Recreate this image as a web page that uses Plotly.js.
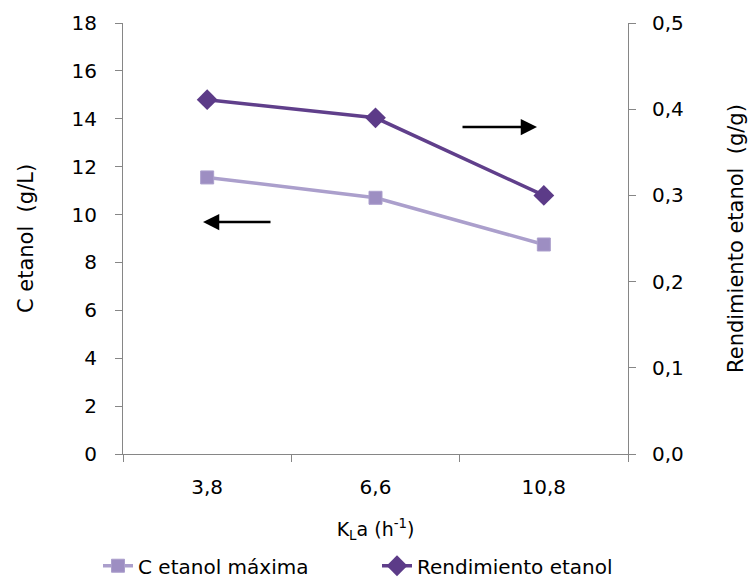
<!DOCTYPE html>
<html><head><meta charset="utf-8">
<script src="https://cdn.plot.ly/plotly-3.0.1.min.js"></script>
<style>html,body{margin:0;padding:0;background:#fff}</style>
</head><body>
<div id="chart" style="width:751px;height:582px"></div>
<script>
const categories = ["3,8", "6,6", "10,8"];
const cEtanolMaxima = [11.55, 10.7, 8.75];
const rendimientoEtanol = [0.411, 0.390, 0.300];

const FONT = "DejaVu Sans, sans-serif";
const axisColor = "#868686";

const traces = [
  {
    x: categories, y: cEtanolMaxima, name: "C etanol máxima", type: "scatter", mode: "lines+markers",
    line: {color: "#ab9fcc", width: 3.5},
    marker: {symbol: "square", size: 13, color: "#9d8ec2", line: {color: "#ab9fcc", width: 1}},
    yaxis: "y", legend: "legend"
  },
  {
    x: categories, y: rendimientoEtanol, name: "Rendimiento etanol", type: "scatter", mode: "lines+markers",
    line: {color: "#603f8b", width: 3.5},
    marker: {symbol: "diamond", size: 16, color: "#5c3b88"},
    yaxis: "y2", legend: "legend2"
  }
];

const legendBase = {orientation: "h", yanchor: "top", y: -0.214, xanchor: "left",
                    font: {family: FONT, size: 20}, bgcolor: "rgba(0,0,0,0)"};

const layout = {
  width: 751, height: 582,
  margin: {l: 123, r: 123, t: 23, b: 128, autoexpand: false},
  paper_bgcolor: "#fff", plot_bgcolor: "#fff",
  separators: ",.",
  font: {family: FONT, size: 20, color: "#000"},
  showlegend: true,
  legend: Object.assign({}, legendBase, {x: (98 - 123) / 505}),
  legend2: Object.assign({}, legendBase, {x: (377 - 123) / 505}),
  xaxis: {
    type: "category", range: [-0.5, 2.5], tickson: "boundaries",
    showline: true, linecolor: axisColor, linewidth: 1,
    ticks: "outside", ticklen: 7, tickcolor: axisColor,
    showgrid: false, zeroline: false,
    tickfont: {family: FONT, size: 20}, ticklabelstandoff: 15,
    title: {text: "K<sub>L</sub>a (h<sup>-1</sup>)", font: {family: FONT, size: 19}, standoff: 24}
  },
  yaxis: {
    range: [0, 18], dtick: 2, tick0: 0,
    showline: true, linecolor: axisColor, linewidth: 1,
    ticks: "outside", ticklen: 7, tickcolor: axisColor,
    showgrid: false, zeroline: false,
    tickfont: {family: FONT, size: 20}, ticklabelstandoff: 14,
    title: {text: "C etanol  (g/L)", font: {family: FONT, size: 21}, standoff: 32}
  },
  yaxis2: {
    overlaying: "y", side: "right", range: [0, 0.5], dtick: 0.1, tick0: 0, tickformat: ".1f",
    showline: true, linecolor: axisColor, linewidth: 1,
    ticks: "outside", ticklen: 7, tickcolor: axisColor,
    showgrid: false, zeroline: false,
    tickfont: {family: FONT, size: 20}, ticklabelstandoff: 12,
    title: {text: "Rendimiento etanol  (g/g)", font: {family: FONT, size: 21}, standoff: 45}
  },
  annotations: [
    {xref: "paper", yref: "paper", x: (203 - 123) / 505, y: (454 - 222) / 431,
     showarrow: true, ax: 69, ay: 0, arrowhead: 2, arrowsize: 1.3, arrowwidth: 2.5, arrowcolor: "#000", text: ""},
    {xref: "paper", yref: "paper", x: (537 - 123) / 505, y: (454 - 127) / 431,
     showarrow: true, ax: -76, ay: 0, arrowhead: 2, arrowsize: 1.3, arrowwidth: 2.5, arrowcolor: "#000", text: ""}
  ]
};

Plotly.newPlot("chart", traces, layout, {displayModeBar: false, staticPlot: true});
</script>
</body></html>
